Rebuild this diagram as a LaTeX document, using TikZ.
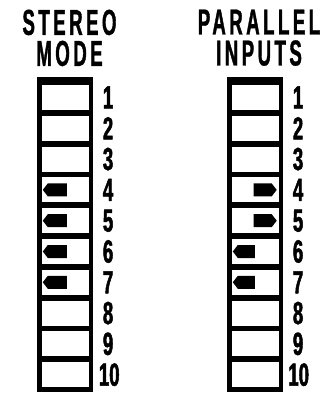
\documentclass[tikz,border=0pt]{standalone}
\usepackage{fontspec}
\setmainfont{Liberation Sans}
\newfontfamily\titlefont{Liberation Sans}[FakeStretch=0.52,LetterSpace=9.5,FakeBold=1]
\newfontfamily\digitfont{Liberation Sans}[FakeStretch=0.58,FakeBold=1.5]
\usetikzlibrary{positioning}

\tikzset{
	swbody/.style={fill=black, inner sep=0pt, minimum width=56pt, minimum height=315pt},
	swwin/.style={fill=white, inner sep=0pt, minimum width=47pt, minimum height=25pt},
	numlbl/.style={inner sep=0pt, font=\digitfont\bfseries\fontsize{32}{32}\selectfont},
	ttl/.style={inner sep=0pt, anchor=north, align=center,
		font=\titlefont\bfseries\fontsize{36}{31}\selectfont}
}

\begin{document}
\begin{tikzpicture}[x=1pt, y=-1pt]
	\useasboundingbox (0,0) rectangle (336,395);
	% titles
	\node[ttl] (tleft) at (69.5,9.5) {STEREO\\MODE};
	\node[ttl] (tright) at (259,9.5) {PARALLEL\\INPUTS};
	% switch bodies
	\node[swbody] (bodyl) at (65,234.5) {};
	\node[swbody] (bodyr) at (255,234.5) {};
	% windows and numbers
	\foreach \i in {1,...,10} {
		\node[swwin] (sl\i) at (65,{97.5+(\i-1)*30.8}) {};
		\node[swwin] (sr\i) at (255,{97.5+(\i-1)*30.8}) {};
	}
	\foreach \i in {1,...,9} {
		\node[numlbl, right=14pt of sl\i] (nl\i) {\i};
		\node[numlbl, right=14pt of sr\i] (nr\i) {\i};
	}
	\node[numlbl, right=10pt of sl10] (nl10) {10};
	\node[numlbl, right=9.5pt of sr10] (nr10) {10};
	% slider positions
	\foreach \i in {4,...,7}
		\fill ([xshift=1.5]sl\i.west) -- ++(5,-6.5) -- ++(19,0) -- ++(0,13) -- ++(-19,0) -- cycle;
	\foreach \i in {4,5}
		\fill ([xshift=-2]sr\i.east) -- ++(-5,-6.5) -- ++(-18,0) -- ++(0,13) -- ++(18,0) -- cycle;
	\foreach \i in {6,7}
		\fill ([xshift=1.5]sr\i.west) -- ++(5,-6.5) -- ++(17,0) -- ++(0,13) -- ++(-17,0) -- cycle;
\end{tikzpicture}
\end{document}
